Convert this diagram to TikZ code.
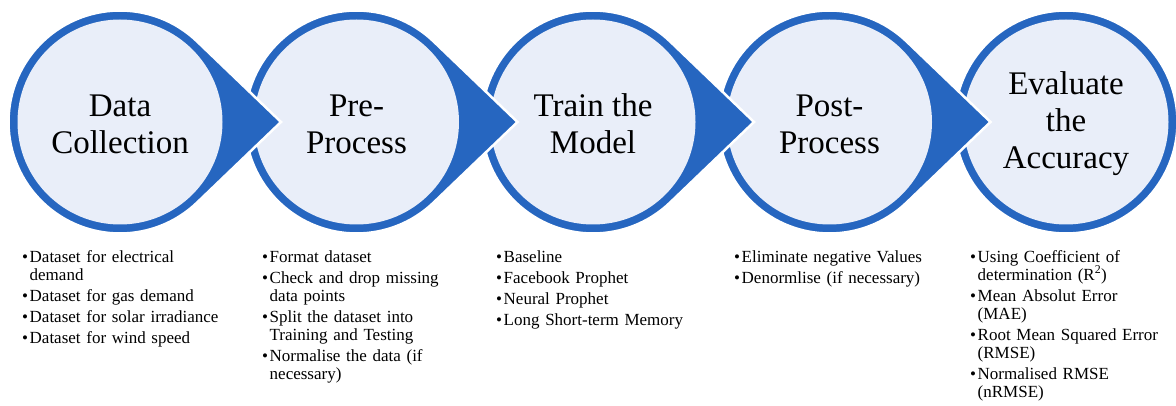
\documentclass[tikz,border=0pt]{standalone}
\usepackage{fontspec}
\setmainfont{Liberation Serif}
\usetikzlibrary{positioning}
\definecolor{ringblue}{RGB}{38,102,192}
\definecolor{discfill}{RGB}{233,238,249}
\tikzstyle{ring} = [fill=ringblue, draw=white, line width=2.5pt]
\tikzstyle{disc} = [fill=discfill]
\tikzstyle{stage} = [align=center, inner sep=0pt, font=\fontsize{33}{37}\selectfont]
\tikzstyle{bullets} = [anchor=north west, align=left, inner sep=0pt, text width=210pt, font=\fontsize{17}{18}\selectfont]
\newcommand{\StageDrop}[1]{%
	\draw[ring] (#1+161,-122) -- ([shift={(46.2:111.5)}]#1,-122) arc (46.2:313.8:111.5) -- cycle;%
	\fill[disc] (#1,-122) circle (102.5);%
}
\newcommand{\StageDisc}[1]{%
	\draw[ring] (#1,-122) circle (111.5);%
	\fill[disc] (#1,-122) circle (102.5);%
}
\newcommand{\bitem}[1]{\par\hangindent=7.5pt\hangafter=1\noindent\makebox[7.5pt][l]{\textbullet}#1\par}

\begin{document}
\begin{tikzpicture}[x=1pt,y=1pt]
\useasboundingbox (0,0) rectangle (1176,-406);
\StageDisc{1066}
\StageDrop{829.5}
\StageDrop{593}
\StageDrop{356.5}
\StageDrop{120}
\node[stage] (collect) at (120,-124) {Data\\Collection};
\node[stage] (pre) at (356.5,-124) {Pre-\\Process};
\node[stage] (train) at (593,-124) {Train the\\Model};
\node[stage] (post) at (829.5,-124) {Post-\\Process};
\node[stage] (eval) at (1066,-124) {Evaluate\\the\\Accuracy};
\node[bullets] (collectlist) at (22,-241) {\setlength{\parskip}{3pt}%
	\bitem{Dataset for electrical\newline demand}
	\bitem{Dataset for gas demand}
	\bitem{Dataset for solar irradiance}
	\bitem{Dataset for wind speed}};
\node[bullets] (prelist) at (262,-241) {\setlength{\parskip}{3pt}%
	\bitem{Format dataset}
	\bitem{Check and drop missing\newline data points}
	\bitem{Split the dataset into\newline Training and Testing}
	\bitem{Normalise the data (if\newline necessary)}};
\node[bullets] (trainlist) at (496,-241) {\setlength{\parskip}{3pt}%
	\bitem{Baseline}
	\bitem{Facebook Prophet}
	\bitem{Neural Prophet}
	\bitem{Long Short-term Memory}};
\node[bullets] (postlist) at (734,-241) {\setlength{\parskip}{3pt}%
	\bitem{Eliminate negative Values}
	\bitem{Denormlise (if necessary)}};
\node[bullets, text width=200pt] (evallist) at (970,-241) {\setlength{\parskip}{3pt}%
	\bitem{Using Coefficient of\newline determination (R\textsuperscript{2})}
	\bitem{Mean Absolut Error\newline (MAE)}
	\bitem{Root Mean Squared Error\newline (RMSE)}
	\bitem{Normalised RMSE\newline (nRMSE)}};
\end{tikzpicture}
\end{document}
